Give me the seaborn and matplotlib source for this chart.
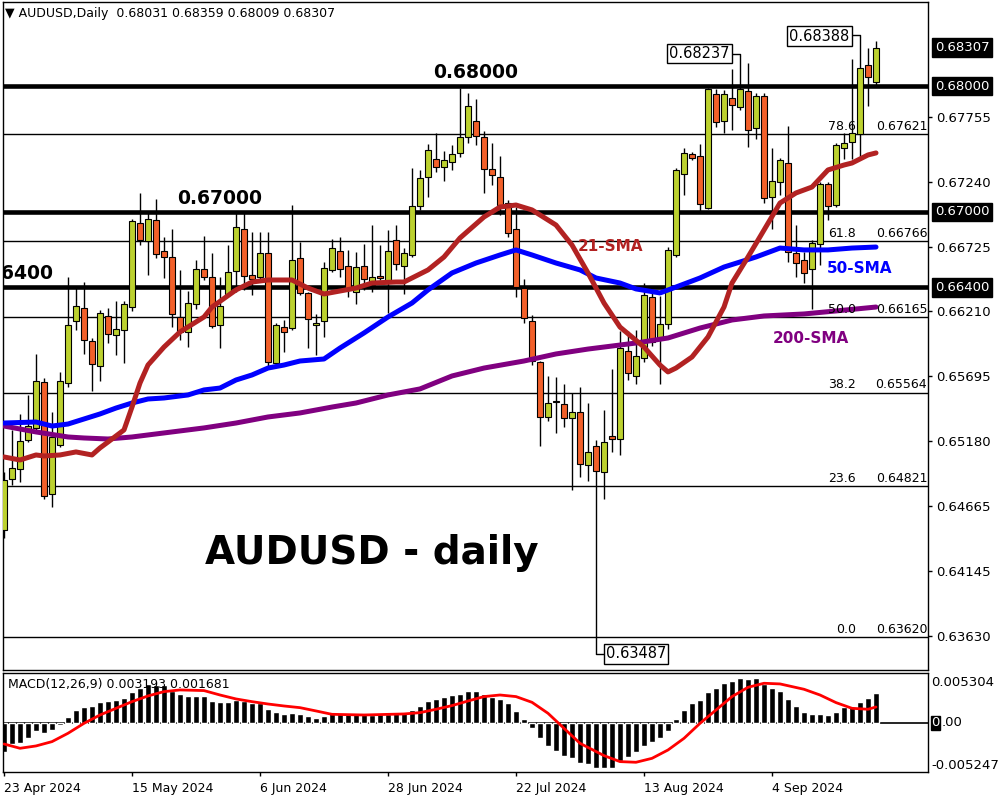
import numpy as np
import matplotlib
matplotlib.use('Agg')
import matplotlib.pyplot as plt
import seaborn as sns

sns.set_style('white')
plt.rcParams['font.family'] = ['DejaVu Sans']
plt.rcParams['text.color'] = 'black'
plt.rcParams['xtick.color'] = 'black'
plt.rcParams['ytick.color'] = 'black'
plt.rcParams['axes.edgecolor'] = 'black'

# daily candles, 23 Apr 2024 .. 23 Sep 2024
opens = [0.64472, 0.64877, 0.64956, 0.65187, 0.65282, 0.65648, 0.64758, 0.65147, 0.65640, 0.66133,
         0.66236, 0.65974, 0.65775, 0.66173, 0.66022, 0.66062, 0.66244, 0.66912, 0.66769, 0.66936,
         0.66690, 0.66642, 0.66165, 0.66046, 0.66268, 0.66546, 0.66483, 0.66101, 0.66348, 0.66531,
         0.66864, 0.66499, 0.66483, 0.66674, 0.65799, 0.66085, 0.66077, 0.66634, 0.66356, 0.66101,
         0.66133, 0.66539, 0.66690, 0.66570, 0.66364, 0.66570, 0.66419, 0.66491, 0.66435, 0.66777,
         0.66570, 0.66658, 0.67047, 0.67278, 0.67421, 0.67357, 0.67397, 0.67469, 0.67596, 0.67723,
         0.67596, 0.67341, 0.67278, 0.67071, 0.66864, 0.66395, 0.66133, 0.65807, 0.65370, 0.65497,
         0.65473, 0.65362, 0.65410, 0.64988, 0.65139, 0.64933, 0.65219, 0.65195, 0.65895, 0.65696,
         0.65839, 0.66324, 0.65990, 0.66109, 0.66658, 0.67302, 0.67461, 0.67445, 0.67031, 0.67938,
         0.67723, 0.67906, 0.67834, 0.67962, 0.67667, 0.67922, 0.67119, 0.67238, 0.67389, 0.66674,
         0.66618, 0.66546, 0.66745, 0.67222, 0.67055, 0.67508, 0.67556, 0.67620, 0.68168, 0.68031]
highs = [0.64933, 0.65267, 0.65394, 0.65545, 0.65871, 0.65680, 0.65410, 0.65728, 0.66483, 0.66395,
         0.66443, 0.65998, 0.66221, 0.66236, 0.66292, 0.66292, 0.66944, 0.67151, 0.66992, 0.67103,
         0.66801, 0.66864, 0.66539, 0.66372, 0.66618, 0.66809, 0.66674, 0.66483, 0.66737, 0.66992,
         0.66992, 0.66841, 0.66841, 0.66841, 0.66117, 0.66141, 0.67055, 0.66761, 0.66364, 0.66189,
         0.66602, 0.66785, 0.66801, 0.66698, 0.66682, 0.66745, 0.66896, 0.66737, 0.66857, 0.66896,
         0.66713, 0.67349, 0.67334, 0.67540, 0.67628, 0.67485, 0.67532, 0.67985, 0.67946, 0.67898,
         0.67644, 0.67548, 0.67445, 0.67095, 0.67039, 0.66467, 0.66181, 0.65815, 0.65696, 0.65688,
         0.65632, 0.65561, 0.65608, 0.65481, 0.65187, 0.65426, 0.65751, 0.66054, 0.66054, 0.66062,
         0.66435, 0.66380, 0.66332, 0.66721, 0.67349, 0.67508, 0.67477, 0.67540, 0.67985, 0.67977,
         0.67970, 0.68136, 0.68237, 0.68184, 0.67946, 0.67946, 0.67508, 0.67429, 0.67683, 0.66896,
         0.66682, 0.66777, 0.67238, 0.67238, 0.67548, 0.67628, 0.68216, 0.68388, 0.68303, 0.68359]
lows = [0.64408, 0.64829, 0.64853, 0.65171, 0.65267, 0.64718, 0.64654, 0.65131, 0.65608, 0.66062,
        0.65871, 0.65577, 0.65656, 0.65958, 0.65863, 0.65799, 0.66213, 0.66737, 0.66499, 0.66634,
        0.66475, 0.66085, 0.65982, 0.65926, 0.66228, 0.66459, 0.66077, 0.65918, 0.66332, 0.66364,
        0.66380, 0.66340, 0.66459, 0.65767, 0.65783, 0.65887, 0.66062, 0.66340, 0.65918, 0.65863,
        0.66006, 0.66523, 0.66483, 0.66324, 0.66268, 0.66380, 0.66364, 0.66459, 0.66197, 0.66539,
        0.66348, 0.66642, 0.67016, 0.67119, 0.67318, 0.67246, 0.67334, 0.67437, 0.67548, 0.67532,
        0.67151, 0.67214, 0.66976, 0.66801, 0.66324, 0.66117, 0.65783, 0.65139, 0.65338, 0.65243,
        0.65290, 0.64790, 0.64893, 0.64861, 0.63487, 0.64718, 0.65092, 0.65068, 0.65664, 0.65632,
        0.65807, 0.65934, 0.65632, 0.66069, 0.66642, 0.67135, 0.67413, 0.66992, 0.67024, 0.67675,
        0.67628, 0.67652, 0.67811, 0.67516, 0.67580, 0.67071, 0.66864, 0.67135, 0.66602, 0.66483,
        0.66435, 0.66228, 0.66578, 0.66936, 0.67039, 0.67421, 0.67421, 0.67429, 0.67842, 0.68009]
closes = [0.64869, 0.64964, 0.65179, 0.65298, 0.65656, 0.64742, 0.65211, 0.65656, 0.66101, 0.66252,
          0.65982, 0.65791, 0.66197, 0.66030, 0.66069, 0.66268, 0.66928, 0.66777, 0.66944, 0.66666,
          0.66642, 0.66189, 0.66046, 0.66276, 0.66546, 0.66483, 0.66093, 0.66252, 0.66523, 0.66880,
          0.66491, 0.66467, 0.66674, 0.65807, 0.66101, 0.66046, 0.66618, 0.66356, 0.66149, 0.66117,
          0.66554, 0.66713, 0.66546, 0.66380, 0.66562, 0.66467, 0.66483, 0.66475, 0.66690, 0.66586,
          0.66674, 0.67047, 0.67270, 0.67493, 0.67357, 0.67413, 0.67461, 0.67596, 0.67842, 0.67604,
          0.67341, 0.67294, 0.67055, 0.66833, 0.66403, 0.66157, 0.65815, 0.65370, 0.65481, 0.65493,
          0.65362, 0.65410, 0.64996, 0.65092, 0.64941, 0.65171, 0.65195, 0.65918, 0.65720, 0.65855,
          0.66340, 0.65966, 0.66109, 0.66698, 0.67334, 0.67469, 0.67429, 0.67063, 0.67977, 0.67715,
          0.67938, 0.67850, 0.67977, 0.67652, 0.67922, 0.67111, 0.67246, 0.67413, 0.66682, 0.66594,
          0.66515, 0.66753, 0.67222, 0.67047, 0.67532, 0.67548, 0.67628, 0.68144, 0.68073, 0.68307]

# moving averages, sampled along the curves
sma21_idx = [0, 2, 4, 5, 7, 9, 11, 12, 13, 15, 16, 17, 18, 20, 22, 25, 26, 29, 31, 33,
             36, 38, 40, 44, 46, 49, 50, 53, 55, 57, 60, 62, 64, 66, 69, 71, 73, 75, 77, 80,
             82, 83, 84, 86, 88, 90, 91, 93, 95, 97, 99, 101, 103, 105, 106, 108, 109]
sma21_val = [0.65052, 0.65028, 0.65068, 0.65060, 0.65068, 0.65092, 0.65068, 0.65124, 0.65171, 0.65267,
             0.65449, 0.65640, 0.65783, 0.65926, 0.66046, 0.66165, 0.66244, 0.66380, 0.66443, 0.66459,
             0.66459, 0.66395, 0.66348, 0.66395, 0.66435, 0.66443, 0.66443, 0.66539, 0.66642, 0.66793,
             0.66960, 0.67039, 0.67055, 0.67016, 0.66896, 0.66737, 0.66515, 0.66276, 0.66085, 0.65926,
             0.65783, 0.65728, 0.65759, 0.65847, 0.66006, 0.66244, 0.66435, 0.66642, 0.66856, 0.67071,
             0.67151, 0.67198, 0.67334, 0.67373, 0.67389, 0.67453, 0.67469]
sma50_idx = [0, 4, 6, 8, 10, 12, 14, 16, 18, 20, 23, 25, 27, 29, 31, 33, 35, 37, 40, 42,
             45, 48, 51, 53, 56, 59, 62, 64, 66, 69, 72, 74, 77, 79, 82, 84, 87, 90, 94, 97,
             100, 103, 106, 109]
sma50_val = [0.65322, 0.65330, 0.65298, 0.65314, 0.65354, 0.65394, 0.65441, 0.65481, 0.65513, 0.65521,
             0.65545, 0.65585, 0.65600, 0.65664, 0.65704, 0.65759, 0.65783, 0.65815, 0.65831, 0.65918,
             0.66038, 0.66165, 0.66276, 0.66380, 0.66515, 0.66594, 0.66658, 0.66698, 0.66658, 0.66594,
             0.66539, 0.66475, 0.66435, 0.66388, 0.66356, 0.66403, 0.66475, 0.66562, 0.66642, 0.66713,
             0.66698, 0.66698, 0.66713, 0.66721]
sma200_idx = [0, 4, 8, 10, 13, 16, 20, 25, 29, 33, 37, 41, 44, 48, 52, 56, 60, 65, 69, 73,
              77, 79, 83, 87, 91, 95, 100, 104, 109]
sma200_val = [0.65298, 0.65251, 0.65211, 0.65203, 0.65195, 0.65211, 0.65243, 0.65283, 0.65322, 0.65370,
              0.65402, 0.65449, 0.65481, 0.65545, 0.65593, 0.65696, 0.65759, 0.65815, 0.65871, 0.65910,
              0.65942, 0.65958, 0.65998, 0.66077, 0.66141, 0.66173, 0.66189, 0.66213, 0.66244]

# MACD(12,26,9)
macd_hist = [-0.00308, -0.00226, -0.00212, -0.00158, -0.00087, -0.00105, -0.00077, -0.00023, 0.00065, 0.00136,
             0.00172, 0.00183, 0.00218, 0.00232, 0.00243, 0.00268, 0.00325, 0.00367, 0.00410, 0.00403,
             0.00403, 0.00343, 0.00307, 0.00286, 0.00286, 0.00286, 0.00232, 0.00225, 0.00225, 0.00243,
             0.00232, 0.00215, 0.00215, 0.00147, 0.00119, 0.00090, 0.00101, 0.00094, 0.00072, 0.00055,
             0.00072, 0.00101, 0.00101, 0.00090, 0.00090, 0.00090, 0.00083, 0.00090, 0.00094, 0.00101,
             0.00101, 0.00136, 0.00179, 0.00232, 0.00250, 0.00279, 0.00296, 0.00307, 0.00339, 0.00339,
             0.00307, 0.00279, 0.00250, 0.00207, 0.00126, 0.00041, -0.00059, -0.00166, -0.00247, -0.00301,
             -0.00350, -0.00372, -0.00425, -0.00443, -0.00485, -0.00485, -0.00478, -0.00407, -0.00361, -0.00315,
             -0.00244, -0.00208, -0.00166, -0.00087, 0.00041, 0.00136, 0.00207, 0.00243, 0.00332, 0.00374,
             0.00421, 0.00449, 0.00474, 0.00467, 0.00481, 0.00410, 0.00367, 0.00339, 0.00250, 0.00179,
             0.00115, 0.00090, 0.00094, 0.00087, 0.00119, 0.00165, 0.00165, 0.00218, 0.00261, 0.003193]
sig_idx = [0, 2, 4, 6, 8, 10, 12, 14, 16, 18, 20, 22, 25, 27, 29, 31, 33, 35, 37, 39,
           41, 45, 50, 52, 54, 56, 58, 60, 62, 64, 66, 68, 70, 72, 75, 77, 79, 81, 83, 85,
           87, 89, 91, 93, 95, 97, 100, 102, 104, 106, 108, 109]
sig_val = [-0.00226, -0.00272, -0.00247, -0.00201, -0.00112, -0.00006, 0.00083, 0.00154, 0.00225, 0.00286,
           0.00332, 0.00350, 0.00343, 0.00296, 0.00254, 0.00225, 0.00200, 0.00179, 0.00161, 0.00126,
           0.00090, 0.00083, 0.00094, 0.00108, 0.00144, 0.00183, 0.00232, 0.00279, 0.00296, 0.00279,
           0.00218, 0.00101, -0.00059, -0.00219, -0.00350, -0.00414, -0.00421, -0.00379, -0.00290, -0.00166,
           -0.00006, 0.00136, 0.00279, 0.00378, 0.00421, 0.00414, 0.00357, 0.00296, 0.00215, 0.00154,
           0.00144, 0.001681]

date_ticks = [0, 16, 32, 48, 64, 80, 96]
date_labels = ['23 Apr 2024', '15 May 2024', '6 Jun 2024', '28 Jun 2024',
               '22 Jul 2024', '13 Aug 2024', '4 Sep 2024']
price_ticks = [0.67755, 0.67240, 0.66725, 0.66210, 0.65695, 0.65180, 0.64665, 0.64145, 0.63630]
key_levels = [0.68000, 0.67000, 0.66400]
fib_pct = ['78.6', '61.8', '50.0', '38.2', '23.6', '0.0']
fib_price = [0.67621, 0.66766, 0.66165, 0.65564, 0.64821, 0.63620]
last_price = 0.68307

BULL = '#BCD12F'
BEAR = '#F2602A'

fig = plt.figure(figsize=(10, 8), dpi=100)
ax = fig.add_axes([0.003, 0.1625, 0.925, 0.835])
mx = fig.add_axes([0.003, 0.035, 0.925, 0.12375])

idx = np.arange(len(opens))
o = np.array(opens); c = np.array(closes)
bottoms = np.minimum(o, c)
heights = np.maximum(np.abs(c - o), 0.00002)
colors = [BULL if cc >= oo else BEAR for oo, cc in zip(o, c)]

# levels
for lv in key_levels:
    ax.axhline(lv, color='black', lw=3.3, zorder=1)
for fp in fib_price:
    ax.axhline(fp, color='black', lw=1.0, zorder=1)

# candles
ax.vlines(idx, lows, highs, color='black', lw=1.0, zorder=2)
ax.bar(idx, heights, bottom=bottoms, width=0.65, color=colors,
       edgecolor='black', linewidth=0.8, zorder=3)

# moving averages
sns.lineplot(x=sma200_idx, y=sma200_val, ax=ax, color='#800080', linewidth=3.6, zorder=4)
sns.lineplot(x=sma50_idx, y=sma50_val, ax=ax, color='#0000FF', linewidth=3.6, zorder=4)
sns.lineplot(x=sma21_idx, y=sma21_val, ax=ax, color='#B22222', linewidth=3.6, zorder=5)

ax.set_xlim(-0.125, 115.5)
ax.set_ylim(0.633585, 0.68669)
ax.set_xticks([])
ax.set_xlabel('')
ax.set_ylabel('')
ax.yaxis.tick_right()
ax.set_yticks(price_ticks)
ax.set_yticklabels([f'{p:.5f}' for p in price_ticks])
ax.tick_params(axis='y', direction='out', length=3, width=1, pad=3, labelsize=9.5, right=True)
for s in ax.spines.values():
    s.set_color('black')
    s.set_linewidth(1)

# boxed prices on the right scale
ytr = ax.get_yaxis_transform()
for p in [last_price] + key_levels:
    ax.text(1.0075, p, f'{p:.5f}', transform=ytr, color='white', fontsize=9.5,
            va='center', ha='left', clip_on=False,
            bbox=dict(boxstyle='square,pad=0.2', fc='black', ec='black'))

# fib labels
for pct, fp in zip(fib_pct, fib_price):
    ax.text(106.5, fp + 0.0001, pct, fontsize=9, ha='right', va='bottom', zorder=6)
    ax.text(115.4, fp + 0.0001, f'{fp:.5f}', fontsize=9, ha='right', va='bottom', zorder=6)

# level captions
ax.text(58.9, 0.68035, '0.68000', fontsize=13.5, fontweight='bold', ha='center', va='bottom')
ax.text(27.0, 0.67035, '0.67000', fontsize=13.5, fontweight='bold', ha='center', va='bottom')
ax.text(6.2, 0.66435, '0.66400', fontsize=13.5, fontweight='bold', ha='right', va='bottom', clip_on=True)

ax.text(75.8, 0.66729, '21-SMA', color='#B22222', fontsize=11, fontweight='bold', ha='center', va='center')
ax.text(106.9, 0.66554, '50-SMA', color='#0000FF', fontsize=11, fontweight='bold', ha='center', va='center')
ax.text(100.9, 0.65990, '200-SMA', color='#800080', fontsize=11, fontweight='bold', ha='center', va='center')

ax.text(46.0, 0.64289, 'AUDUSD - daily', fontsize=28, fontweight='bold', ha='center', va='center')

# high / low call-outs
box = dict(boxstyle='square,pad=0.15', fc='white', ec='black', lw=1)
ax.text(86.9, 0.68258, '0.68237', fontsize=10.5, ha='center', va='center', bbox=box, zorder=7)
ax.plot([90.8, 92, 92], [0.68258, 0.68258, 0.68237], color='black', lw=1, zorder=6)
ax.text(101.9, 0.68398, '0.68388', fontsize=10.5, ha='center', va='center', bbox=box, zorder=7)
ax.plot([105.6, 107, 107], [0.68405, 0.68405, 0.68388], color='black', lw=1, zorder=6)
ax.text(79.0, 0.63487, '0.63487', fontsize=10.5, ha='center', va='center', bbox=box, zorder=7)
ax.plot([74, 75.3], [0.63487, 0.63487], color='black', lw=1, zorder=6)

fig.text(0.005, 0.9825, '\u25bc AUDUSD,Daily  0.68031 0.68359 0.68009 0.68307',
         fontsize=9, ha='left', va='center')

# MACD panel
mx.bar(idx, macd_hist, width=0.75, color='black', zorder=2)
mx.axhline(0, color='black', lw=1.2, zorder=1)
sns.lineplot(x=sig_idx, y=sig_val, ax=mx, color='#FF0000', linewidth=2, zorder=3)
mx.set_xlim(-0.125, 115.5)
mx.set_ylim(-0.005247, 0.005304)
mx.set_yticks([])
mx.set_xlabel('')
mx.set_ylabel('')
mx.set_xticks(date_ticks)
mx.set_xticklabels(date_labels, ha='left')
mx.tick_params(axis='x', direction='out', length=3, width=1, pad=4, labelsize=9, bottom=True)
for s in mx.spines.values():
    s.set_color('black')
    s.set_linewidth(1)

mx.text(0.0054, 0.88, 'MACD(12,26,9) 0.003193 0.001681', transform=mx.transAxes,
        fontsize=9, ha='left', va='center')
mx.text(1.0035, 0.9, '0.005304', transform=mx.transAxes, fontsize=9.5, ha='left', va='center')
mx.text(1.0035, 0.07, '-0.005247', transform=mx.transAxes, fontsize=9.5, ha='left', va='center')
zero_tag = mx.text(1.0035, 0.497, '0', transform=mx.transAxes, fontsize=9.5, ha='left', va='center',
                   color='white', bbox=dict(boxstyle='square,pad=0.05', fc='black', ec='black'))
mx.annotate('.00', xy=(1.0, 0.5), xycoords=zero_tag, xytext=(1.5, 0), textcoords='offset points',
            fontsize=9.5, ha='left', va='center')

fig.savefig('out.png', dpi=100)
